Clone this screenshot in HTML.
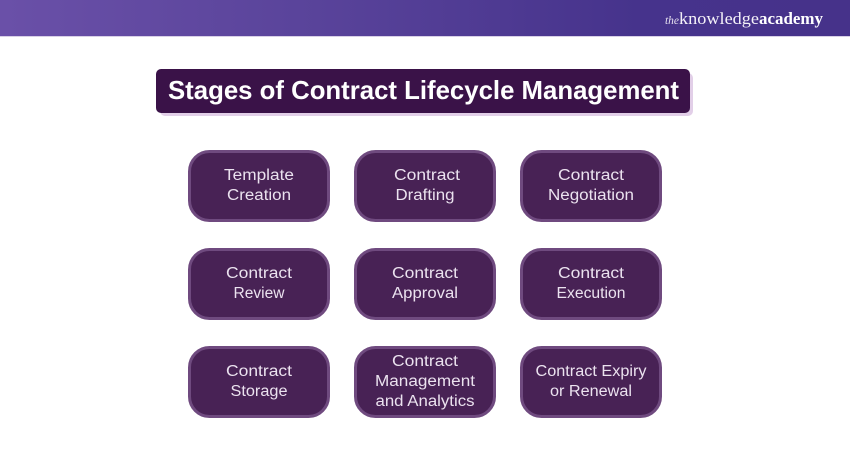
<!DOCTYPE html>
<html><head><meta charset="utf-8"><style>
html,body{margin:0;padding:0;background:#fff;width:850px;height:450px;overflow:hidden}
svg{display:block}
.t{font-family:"Liberation Sans",sans-serif;font-size:15.5px;fill:#ebe2ef;text-anchor:middle}
</style></head><body>
<svg width="850" height="450" viewBox="0 0 850 450" xmlns="http://www.w3.org/2000/svg">
<defs><linearGradient id="g" x1="0" x2="1" y1="0" y2="0">
<stop offset="0" stop-color="#6a50a8"/><stop offset=".35" stop-color="#5a449b"/><stop offset=".75" stop-color="#46338c"/><stop offset="1" stop-color="#46328a"/></linearGradient></defs>
<rect width="850" height="36" fill="url(#g)"/>
<rect y="36" width="850" height="1" fill="#d8d0e6"/>
<text x="665" y="24" font-family="Liberation Serif,serif" font-style="italic" font-size="12" fill="#e6e0f0" textLength="14" lengthAdjust="spacingAndGlyphs">the</text>
<text x="679" y="24" font-family="Liberation Serif,serif" font-size="17" fill="#f4f1f8" textLength="80" lengthAdjust="spacingAndGlyphs">knowledge</text>
<text x="759" y="24" font-family="Liberation Serif,serif" font-weight="bold" font-size="17" fill="#fff" textLength="64" lengthAdjust="spacingAndGlyphs">academy</text>

<rect x="160" y="73" width="533" height="43" rx="5" fill="#e2cfe8"/>
<rect x="156" y="69" width="534" height="44" rx="5" fill="#3a1248"/>
<text x="168" y="99" font-family="Liberation Sans,sans-serif" font-weight="bold" font-size="26" fill="#fff" textLength="511" lengthAdjust="spacingAndGlyphs">Stages of Contract Lifecycle Management</text>

<g fill="#482255" stroke="#6f4a7f" stroke-width="3">
<rect x="189.5" y="151.5" width="139" height="69" rx="20"/>
<rect x="355.5" y="151.5" width="139" height="69" rx="20"/>
<rect x="521.5" y="151.5" width="139" height="69" rx="20"/>
<rect x="189.5" y="249.5" width="139" height="69" rx="20"/>
<rect x="355.5" y="249.5" width="139" height="69" rx="20"/>
<rect x="521.5" y="249.5" width="139" height="69" rx="20"/>
<rect x="189.5" y="347.5" width="139" height="69" rx="20"/>
<rect x="355.5" y="347.5" width="139" height="69" rx="20"/>
<rect x="521.5" y="347.5" width="139" height="69" rx="20"/>
</g>
<g>
<text class="t" x="259" y="180" textLength="70" lengthAdjust="spacingAndGlyphs">Template</text>
<text class="t" x="259" y="200" textLength="64" lengthAdjust="spacingAndGlyphs">Creation</text>
<text class="t" x="427" y="180" textLength="66" lengthAdjust="spacingAndGlyphs">Contract</text>
<text class="t" x="425" y="200" textLength="59" lengthAdjust="spacingAndGlyphs">Drafting</text>
<text class="t" x="591" y="180" textLength="66" lengthAdjust="spacingAndGlyphs">Contract</text>
<text class="t" x="591" y="200" textLength="86" lengthAdjust="spacingAndGlyphs">Negotiation</text>
<text class="t" x="259" y="278" textLength="66" lengthAdjust="spacingAndGlyphs">Contract</text>
<text class="t" x="259" y="298" textLength="51" lengthAdjust="spacingAndGlyphs">Review</text>
<text class="t" x="425" y="278" textLength="66" lengthAdjust="spacingAndGlyphs">Contract</text>
<text class="t" x="425" y="298" textLength="66" lengthAdjust="spacingAndGlyphs">Approval</text>
<text class="t" x="591" y="278" textLength="66" lengthAdjust="spacingAndGlyphs">Contract</text>
<text class="t" x="591" y="298" textLength="69" lengthAdjust="spacingAndGlyphs">Execution</text>
<text class="t" x="259" y="376" textLength="66" lengthAdjust="spacingAndGlyphs">Contract</text>
<text class="t" x="259" y="396" textLength="57" lengthAdjust="spacingAndGlyphs">Storage</text>
<text class="t" x="425" y="366" textLength="66" lengthAdjust="spacingAndGlyphs">Contract</text>
<text class="t" x="425" y="386" textLength="100" lengthAdjust="spacingAndGlyphs">Management</text>
<text class="t" x="425" y="406" textLength="99" lengthAdjust="spacingAndGlyphs">and Analytics</text>
<text class="t" x="591" y="376" textLength="111" lengthAdjust="spacingAndGlyphs">Contract Expiry</text>
<text class="t" x="591" y="396" textLength="82" lengthAdjust="spacingAndGlyphs">or Renewal</text>
</g>
</svg>
</body></html>
